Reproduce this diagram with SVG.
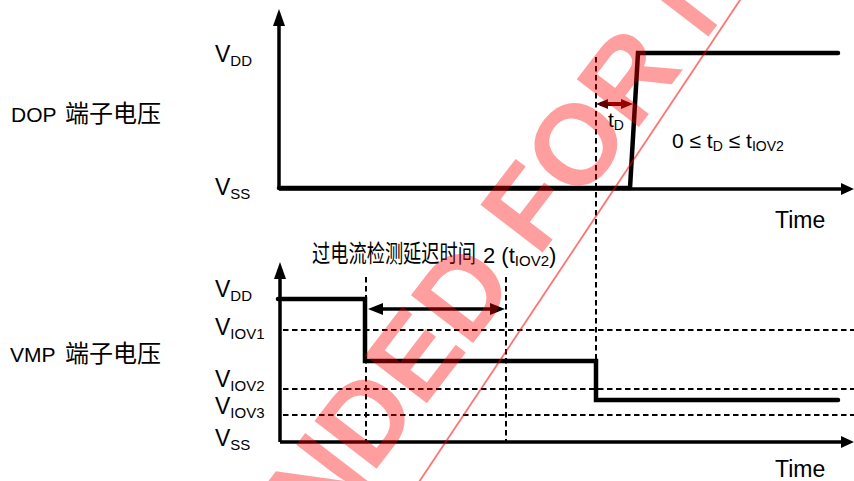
<svg xmlns="http://www.w3.org/2000/svg" width="854" height="481" viewBox="0 0 854 481">
<style>
.ax{stroke:#000;stroke-width:3.5;fill:none}
.sig{stroke:#000;stroke-width:4.5;fill:none;stroke-linecap:round;stroke-linejoin:miter}
.dash{stroke:#000;stroke-width:2;stroke-dasharray:5.5 3.5;fill:none}
.head{fill:#000}
.lat{font-family:"Liberation Sans",Arial,sans-serif;fill:#000}
.cjk{font-family:"Noto Sans CJK SC","Liberation Sans",sans-serif;fill:#000}
.m{font-size:23px}
.s{font-size:15px}
</style>
<defs>
<marker id="big" viewBox="0 0 15 12" refX="10" refY="6" markerWidth="15" markerHeight="12" markerUnits="userSpaceOnUse" orient="auto-start-reverse">
<path d="M0,0 L15,6 L0,12 z" fill="#000"/>
</marker>
<marker id="small" viewBox="0 0 12 10" refX="8" refY="5" markerWidth="12" markerHeight="10" markerUnits="userSpaceOnUse" orient="auto-start-reverse">
<path d="M0,0 L12,5 L0,10 z" fill="#5c0000"/>
</marker>
</defs>
<rect width="854" height="481" fill="#fff"/>

<g id="top-chart">
<line class="ax" x1="279" y1="189" x2="279" y2="22"/>
<polygon class="head" points="279,9 273,26 285,26"/>
<line class="ax" x1="279" y1="189" x2="843" y2="189"/>
<polygon class="head" points="854,189 841,183 841,195"/>
<polyline class="sig" points="279,188 630,188 638,53 838,53"/>
<line class="dash" x1="596" y1="57" x2="596" y2="360"/>
</g>

<g id="bottom-chart">
<line class="ax" x1="280" y1="442" x2="280" y2="275"/>
<polygon class="head" points="280,262 274,279 286,279"/>
<line class="ax" x1="280" y1="442" x2="843" y2="442"/>
<polygon class="head" points="854,442 841,436 841,448"/>
<line class="dash" x1="283" y1="330" x2="854" y2="330"/>
<line class="dash" x1="283" y1="389" x2="854" y2="389"/>
<line class="dash" x1="283" y1="415" x2="854" y2="415"/>
<line class="dash" x1="366" y1="277" x2="366" y2="442"/>
<line class="dash" x1="506" y1="277" x2="506" y2="442"/>
<polyline class="sig" points="278,299 365,299 365,361 596,361 596,400 838,400"/>
</g>

<g id="connectors">
<line x1="600" y1="104" x2="629" y2="104" stroke="#5c0000" stroke-width="4" marker-start="url(#small)" marker-end="url(#small)"/>
<line x1="373" y1="309" x2="500" y2="309" stroke="#000" stroke-width="3.5" marker-start="url(#big)" marker-end="url(#big)"/>
</g>

<g id="labels">
<text class="lat" x="11" y="122" font-size="21">DOP</text>
<text class="cjk" x="65" y="122" font-size="24">端子电压</text>
<text class="lat" x="10" y="362" font-size="21">VMP</text>
<text class="cjk" x="65" y="362" font-size="24">端子电压</text>

<text class="lat m" x="215" y="62">V<tspan class="s" dy="4">DD</tspan></text>
<text class="lat m" x="215" y="195">V<tspan class="s" dy="4">SS</tspan></text>
<text class="lat m" x="215" y="297">V<tspan class="s" dy="4">DD</tspan></text>
<text class="lat m" x="215" y="335">V<tspan class="s" dy="4">IOV1</tspan></text>
<text class="lat m" x="215" y="387">V<tspan class="s" dy="4">IOV2</tspan></text>
<text class="lat m" x="215" y="414">V<tspan class="s" dy="4">IOV3</tspan></text>
<text class="lat m" x="215" y="446">V<tspan class="s" dy="4">SS</tspan></text>

<text class="lat" x="775" y="228" font-size="23">Time</text>
<text class="lat" x="775" y="477" font-size="23">Time</text>

<text class="lat" x="608" y="127" font-size="21">t<tspan font-size="14" dy="3">D</tspan></text>
<text class="lat" x="672" y="148" font-size="21">0 ≤ t<tspan font-size="14" dy="3">D</tspan><tspan dy="-3"> ≤ t</tspan><tspan font-size="14" dy="3">IOV2</tspan></text>

<text class="lat" y="262" font-size="22"><tspan class="cjk" x="312" font-size="24" textLength="164" lengthAdjust="spacingAndGlyphs">过电流检测延迟时间</tspan><tspan x="483" dy="1">2 (t</tspan><tspan font-size="15" dy="3">IOV2</tspan><tspan dy="-3">)</tspan></text>
</g>

<g id="watermark">
<line x1="407" y1="500" x2="752" y2="-18" stroke="#ff0000" stroke-opacity="0.55" stroke-width="1.8"/>
<text transform="translate(322,540) rotate(-52.5)" font-family="Liberation Sans,Arial,sans-serif" font-weight="bold" font-size="114" fill="#ff0000" fill-opacity="0.38">NDED FOR N</text>
</g>
</svg>
